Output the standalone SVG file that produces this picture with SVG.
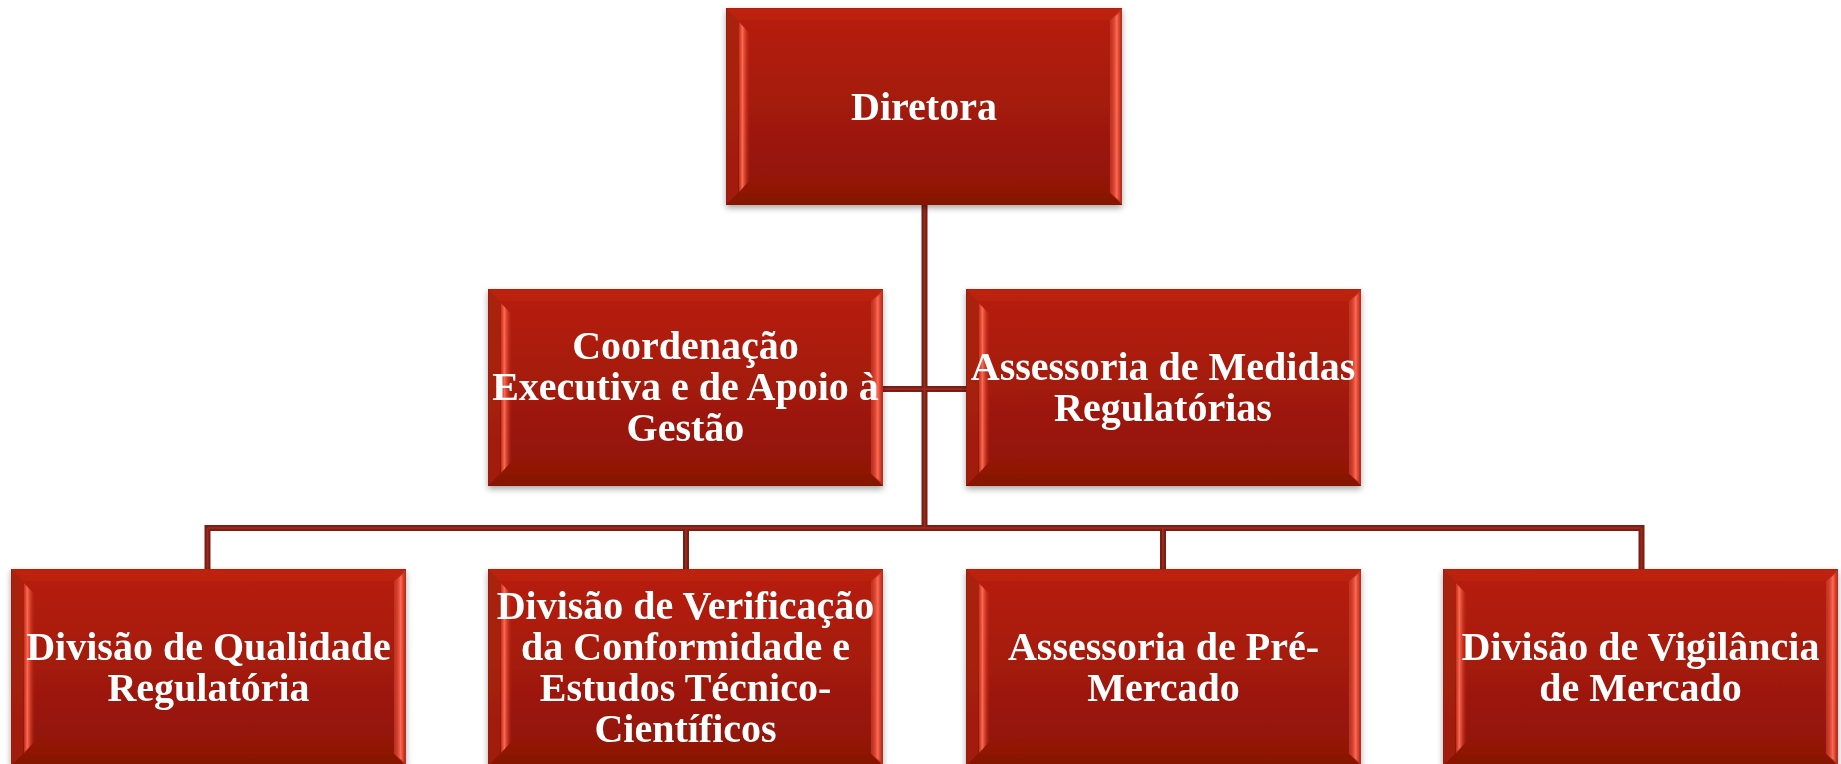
<svg xmlns="http://www.w3.org/2000/svg" width="1841" height="764" viewBox="0 0 1841 764">
<defs>
<linearGradient id="face" x1="0" y1="0" x2="0" y2="1">
<stop offset="0" stop-color="#b81f0e"/>
<stop offset="0.5" stop-color="#a31a0b"/>
<stop offset="1" stop-color="#8d1505"/>
</linearGradient>
<linearGradient id="hlL" x1="0" y1="0" x2="1" y2="0">
<stop offset="0" stop-color="#d8402c" stop-opacity="0.6"/>
<stop offset="0.3" stop-color="#ff6a52"/>
<stop offset="1" stop-color="#c0281a" stop-opacity="0"/>
</linearGradient>
<linearGradient id="hlR" x1="0" y1="0" x2="1" y2="0">
<stop offset="0" stop-color="#c0281a" stop-opacity="0"/>
<stop offset="0.7" stop-color="#ff6a52"/>
<stop offset="1" stop-color="#d8402c" stop-opacity="0.7"/>
</linearGradient>
<filter id="sh" x="-5%" y="-5%" width="110%" height="115%">
<feDropShadow dx="0" dy="3" stdDeviation="3" flood-color="#000" flood-opacity="0.35"/>
</filter>
<symbol id="box" viewBox="0 0 395 197" preserveAspectRatio="none">
<rect x="0" y="0" width="395" height="197" fill="url(#face)" stroke="#5e1208" stroke-width="1.5"/>
<path d="M0,0 L12,12 L12,185 L0,197 Z" fill="#a52212" opacity="0.8"/>
<path d="M395,0 L383,12 L383,185 L395,197 Z" fill="#c23a28" opacity="0.8"/>
<path d="M0,0 L395,0 L383,12 L12,12 Z" fill="#bd2412" opacity="0.8"/>
<path d="M0,197 L395,197 L383,185 L12,185 Z" fill="#861303" opacity="0.8"/>
<path d="M13,14 L24,26 L24,172 L13,184 Z" fill="url(#hlL)"/>
<path d="M382,14 L393,4 L393,193 L382,184 Z" fill="url(#hlR)"/>
</symbol>
</defs>
<style>
.t{font-family:"Liberation Serif","Times New Roman",serif;font-weight:bold;font-size:40px;fill:#ffffff;text-anchor:middle}
.c{stroke:#7d1c12;stroke-width:6;fill:none}
.ci{stroke:#962a1e;stroke-width:2;fill:none}
</style>
<rect width="1841" height="764" fill="#ffffff"/>
<g id="connectors">
<path class="c" d="M924.5,205 V528 M883,389 H966 M207.5,528 H1641.5 M207.5,525 V569 M686,528 V569 M1163,528 V569 M1641.5,525 V569"/>
<path class="ci" d="M924.5,205 V528 M883,389 H966 M207.5,528 H1641.5 M207.5,528 V569 M686,528 V569 M1163,528 V569 M1641.5,528 V569"/>
</g>
<g id="n-diretora" filter="url(#sh)">
<use href="#box" x="726" y="8" width="396" height="197"/>
<text class="t" x="924" y="120">Diretora</text>
</g>
<g id="n-coordenacao" filter="url(#sh)">
<use href="#box" x="488" y="289" width="395" height="197"/>
<text class="t" x="685.5" y="359">Coordenação</text>
<text class="t" x="685.5" y="400">Executiva e de Apoio à</text>
<text class="t" x="685.5" y="441">Gestão</text>
</g>
<g id="n-assessoria-medidas" filter="url(#sh)">
<use href="#box" x="966" y="289" width="395" height="197"/>
<text class="t" x="1163" y="380">Assessoria de Medidas</text>
<text class="t" x="1163" y="421">Regulatórias</text>
</g>
<g id="n-qualidade" filter="url(#sh)">
<use href="#box" x="11" y="569" width="395" height="197"/>
<text class="t" x="208.5" y="660">Divisão de Qualidade</text>
<text class="t" x="208.5" y="701">Regulatória</text>
</g>
<g id="n-verificacao" filter="url(#sh)">
<use href="#box" x="488" y="569" width="395" height="197"/>
<text class="t" x="685.5" y="619">Divisão de Verificação</text>
<text class="t" x="685.5" y="660">da Conformidade e</text>
<text class="t" x="685.5" y="701">Estudos Técnico-</text>
<text class="t" x="685.5" y="742">Científicos</text>
</g>
<g id="n-pre-mercado" filter="url(#sh)">
<use href="#box" x="966" y="569" width="395" height="197"/>
<text class="t" x="1163.5" y="660">Assessoria de Pré-</text>
<text class="t" x="1163.5" y="701">Mercado</text>
</g>
<g id="n-vigilancia" filter="url(#sh)">
<use href="#box" x="1443" y="569" width="395" height="197"/>
<text class="t" x="1640.5" y="660">Divisão de Vigilância</text>
<text class="t" x="1640.5" y="701">de Mercado</text>
</g>
</svg>
